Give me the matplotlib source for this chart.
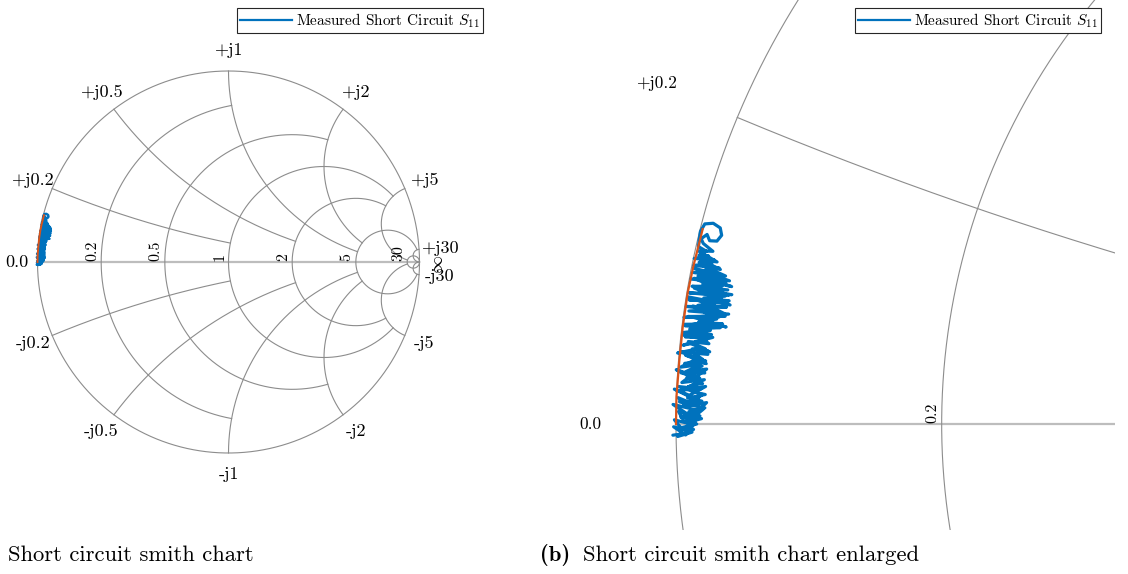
import numpy as np
import matplotlib
matplotlib.use("Agg")
import matplotlib.pyplot as plt

plt.rcParams['font.family'] = 'cmr10'
plt.rcParams['mathtext.fontset'] = 'cm'
plt.rcParams['axes.unicode_minus'] = False

# Smith chart grid: circle values and the value each circle/arc is drawn up to
grid_values = [0.2, 0.5, 1, 2, 5, 30]
grid_limits = [1, 2, 5, 5, 30, np.inf]
r_labels = ["0.2", "0.5", "1", "2", "5", "30"]
x_labels_pos = ["+j0.2", "+j0.5", "+j1", "+j2", "+j5", "+j30"]
x_labels_neg = ["-j0.2", "-j0.5", "-j1", "-j2", "-j5", "-j30"]

# Measured short-circuit S11, upward sweep (phase in degrees, magnitude)
meas_up_phase_deg = [
    180.9, 180.6, 180.2, 180.8, 179.9, 180.4, 179.7, 180.0, 179.4, 179.8,
    179.1, 179.5, 178.9, 179.3, 178.6, 179.0, 178.4, 178.7, 178.1, 178.5,
    177.8, 178.2, 177.5, 177.9, 177.2, 177.6, 177.0, 177.3, 176.7, 177.0,
    176.4, 176.8, 176.1, 176.5, 175.9,
    176.2, 175.6, 175.9, 175.3, 175.5, 175.0, 175.2, 174.7, 174.9, 174.4,
    174.6, 174.1, 174.3, 173.8, 174.0, 173.5, 173.7, 173.2, 173.4, 173.0,
    173.1, 172.7, 172.9, 172.4, 172.6, 172.2, 172.3, 171.9, 172.1, 171.6,
    171.8, 171.4, 171.5, 171.1, 171.3, 170.8, 171.0, 170.6, 170.7, 170.3,
    170.5, 170.1, 170.2, 169.8, 170.0, 169.6, 169.7, 169.3, 169.5, 169.1,
    169.2, 168.9,
    169.0, 168.6, 168.8, 168.3, 168.5, 168.1, 168.2, 167.8, 168.0, 167.6,
    167.7, 167.3, 167.1, 166.6,
    166.0, 165.4, 165.2, 165.4, 165.9, 166.4, 166.5, 166.1, 166.5,
]
meas_up_mag = [
    0.998, 0.980, 1.003, 0.988, 0.976, 0.992, 1.002, 0.982, 0.970, 0.990,
    0.997, 0.978, 0.966, 0.985, 1.004, 0.972, 0.962, 0.988, 0.998, 0.980,
    0.968, 0.976, 1.003, 0.984, 0.964, 0.996, 0.974, 0.986, 0.966, 0.994,
    0.982, 0.970, 1.002, 0.976, 0.964,
    0.990, 0.972, 0.997, 0.980, 0.965, 0.992, 0.970, 0.985, 1.002, 0.974,
    0.962, 0.988, 0.996, 0.968, 0.982, 0.960, 0.994, 0.976, 0.998, 0.964,
    0.990, 0.952, 0.996, 0.970, 0.945, 0.988, 0.999, 0.955, 0.980, 0.944,
    0.994, 0.962, 0.998, 0.948, 0.984, 0.956, 0.996, 0.946, 0.978, 0.952,
    0.997, 0.944, 0.986, 0.950, 0.995, 0.958, 0.982, 0.954, 0.998, 0.964,
    0.990, 0.960,
    0.996, 0.970, 0.988, 0.966, 0.998, 0.976, 0.992, 0.974, 0.999, 0.982,
    0.994, 0.986, 0.997, 0.998,
    0.999, 0.996, 0.986, 0.976, 0.972, 0.976, 0.985, 0.990, 0.996,
]

# Measured short-circuit S11, return sweep
meas_down_phase_deg = [
    166.8, 167.2, 167.4, 167.9, 168.0, 168.4, 168.4, 168.8, 168.7, 169.1,
    169.2, 169.5, 169.4, 169.9, 169.8, 170.2, 170.1, 170.5, 170.4, 170.9,
    170.8, 171.2, 171.1, 171.6, 171.4, 171.9, 171.8, 172.2, 172.1, 172.5,
    172.4, 172.8, 172.9, 173.2, 173.3, 173.6, 173.7, 174.0, 174.0, 174.4,
    174.5, 174.8, 174.8, 175.2, 175.3, 175.6, 175.7, 176.0, 176.2, 176.3,
    176.6, 176.6, 177.0, 177.1, 177.4, 177.3, 177.7, 177.8, 178.1, 178.3,
    178.4, 178.7, 178.8, 179.1, 179.2, 179.5, 179.6, 179.9, 180.0, 180.3,
    180.4, 180.7, 180.8,
]
meas_down_mag = [
    0.992, 0.978, 0.996, 0.970, 0.990, 0.964, 0.986, 0.956, 0.997, 0.950,
    0.980, 0.946, 0.994, 0.960, 0.974, 0.948, 0.992, 0.956, 0.970, 0.944,
    0.998, 0.960, 0.976, 0.950, 0.990, 0.966, 0.948, 0.994, 0.958, 0.980,
    0.950, 0.998, 0.966, 0.986, 0.962, 0.996, 0.972, 0.964, 0.990, 0.968,
    0.984, 0.964, 0.998, 0.976, 0.966, 0.992, 0.970, 0.982, 0.966, 0.996,
    0.972, 0.988, 0.968, 0.980, 0.970, 0.998, 0.974, 0.964, 0.986, 0.968,
    0.996, 0.974, 0.964, 0.984, 0.972, 0.994, 0.968, 0.986, 0.974, 0.996,
    0.978, 0.990, 1.004,
]

# Ideal short-circuit response
model_phase_deg = [180.0, 178.0, 175.5, 173.0, 170.5, 168.5, 166.5, 165.8]
model_mag = [1.000, 1.000, 0.999, 0.999, 0.999, 0.998, 0.997, 0.997]

legend_label = r"Measured Short Circuit $S_{11}$"

BLUE = "#0072BD"
ORANGE = "#D95319"
GRID = "#8c8c8c"
AXIS = "#bdbdbd"

FIG_W, FIG_H = 1128, 574


def to_gamma(phase_deg, mag):
    ph = np.deg2rad(np.asarray(phase_deg))
    m = np.asarray(mag)
    return m * np.cos(ph), m * np.sin(ph)


def inside(ax, x, y):
    x0, x1 = ax.get_xlim()
    y0, y1 = ax.get_ylim()
    return x0 < x < x1 and y0 < y < y1


def draw_grid(ax, lbl_size, r_size):
    t = np.linspace(0, 2 * np.pi, 1500)
    ax.plot(np.cos(t), np.sin(t), color=GRID, lw=0.8, zorder=1)
    ax.plot([-1, 1], [0, 0], color=AXIS, lw=1.6, zorder=1)
    for v, lim in zip(grid_values, grid_limits):
        # constant-resistance circle, |x| <= lim
        u = np.linspace(-np.arctan(lim), np.arctan(lim), 3000)
        z = v + 1j * np.tan(u)
        g = (z - 1) / (z + 1)
        ax.plot(g.real, g.imag, color=GRID, lw=0.8, zorder=1)
        # constant-reactance arcs, r <= lim
        u = np.linspace(0, np.arctan(lim), 3000)
        for s in (1, -1):
            z = np.tan(u) + 1j * s * v
            g = (z - 1) / (z + 1)
            ax.plot(g.real, g.imag, color=GRID, lw=0.8, zorder=1)
    # resistance labels
    for v, lab in zip(grid_values, r_labels):
        gl = (v - 1) / (v + 1)
        if inside(ax, gl, 0.01):
            ax.annotate(lab, (gl, 0), xytext=(-1.5, 0.5), textcoords='offset points',
                        rotation=90, ha='right', va='bottom', fontsize=r_size)
    if inside(ax, -1.107, 0):
        ax.text(-1.107, 0, "0.0", ha='center', va='center', fontsize=lbl_size)
    if inside(ax, 1.10, 0):
        ax.text(1.10, -0.012, r"$\infty$", ha='center', va='center', rotation=90,
                fontsize=lbl_size)
    # reactance labels
    for v, lp, ln in zip(grid_values, x_labels_pos, x_labels_neg):
        g = (1j * v - 1) / (1j * v + 1)
        for gg, lab in ((g, lp), (np.conj(g), ln)):
            px, py = 1.11 * gg.real, 1.11 * gg.imag
            if inside(ax, px, py):
                ax.text(px, py, lab, ha='center', va='center', fontsize=lbl_size)


def draw_data(ax, lw_meas, lw_model):
    ux, uy = to_gamma(meas_up_phase_deg, meas_up_mag)
    dx, dy = to_gamma(meas_down_phase_deg, meas_down_mag)
    mx = np.concatenate([ux, dx])
    my = np.concatenate([uy, dy])
    line, = ax.plot(mx, my, color=BLUE, lw=lw_meas, solid_joinstyle='round',
                    solid_capstyle='round', zorder=3, label=legend_label)
    ox, oy = to_gamma(model_phase_deg, model_mag)
    ax.plot(ox, oy, color=ORANGE, lw=lw_model, zorder=4)
    return line


def make_axes(fig, px_box, center_px, scale):
    x0, y0, x1, y1 = px_box
    ax = fig.add_axes([x0 / FIG_W, 1 - y1 / FIG_H, (x1 - x0) / FIG_W, (y1 - y0) / FIG_H])
    cx, cy, gx = center_px
    ax.set_xlim(gx + (x0 - cx) / scale, gx + (x1 - cx) / scale)
    ax.set_ylim((cy - y1) / scale, (cy - y0) / scale)
    ax.set_aspect('auto')
    ax.axis('off')
    return ax


def add_legend(fig, right_px):
    handle = plt.Line2D([], [], color=BLUE, lw=1.6)
    leg = fig.legend([handle], [legend_label], loc='upper right',
                     bbox_to_anchor=(right_px / FIG_W, 1 - 8 / FIG_H),
                     fontsize=11, frameon=True, fancybox=False, framealpha=1,
                     handlelength=3.4, handletextpad=0.25, borderpad=0.22,
                     borderaxespad=0)
    leg.get_frame().set_edgecolor('#262626')
    leg.get_frame().set_linewidth(0.8)


fig = plt.figure(figsize=(FIG_W / 100, FIG_H / 100), dpi=100)

# full chart: centre (228.5, 262) px, 191 px per unit
ax1 = make_axes(fig, (0, 0, 500, 530), (228.5, 262, 0.0), 191)
draw_grid(ax1, 13, 11.5)
draw_data(ax1, 1.8, 1.4)
add_legend(fig, 483)

# enlarged view around the short-circuit point: (-1, 0) at (676, 424) px
ax2 = make_axes(fig, (560, 0, 1115, 530), (676, 424, -1.0), 797)
draw_grid(ax2, 12.5, 11.5)
draw_data(ax2, 2.3, 1.6)
add_legend(fig, 1101)

cap_y = 1 - 555 / FIG_H
fig.text(8 / FIG_W, cap_y, "Short circuit smith chart", fontsize=16.3, va='center')
fig.text(540 / FIG_W, cap_y, "(b)", fontsize=16.3, va='center', family='cmb10')
fig.text(583 / FIG_W, cap_y, "Short circuit smith chart enlarged", fontsize=16.3, va='center')

fig.savefig("out.png", dpi=100)
